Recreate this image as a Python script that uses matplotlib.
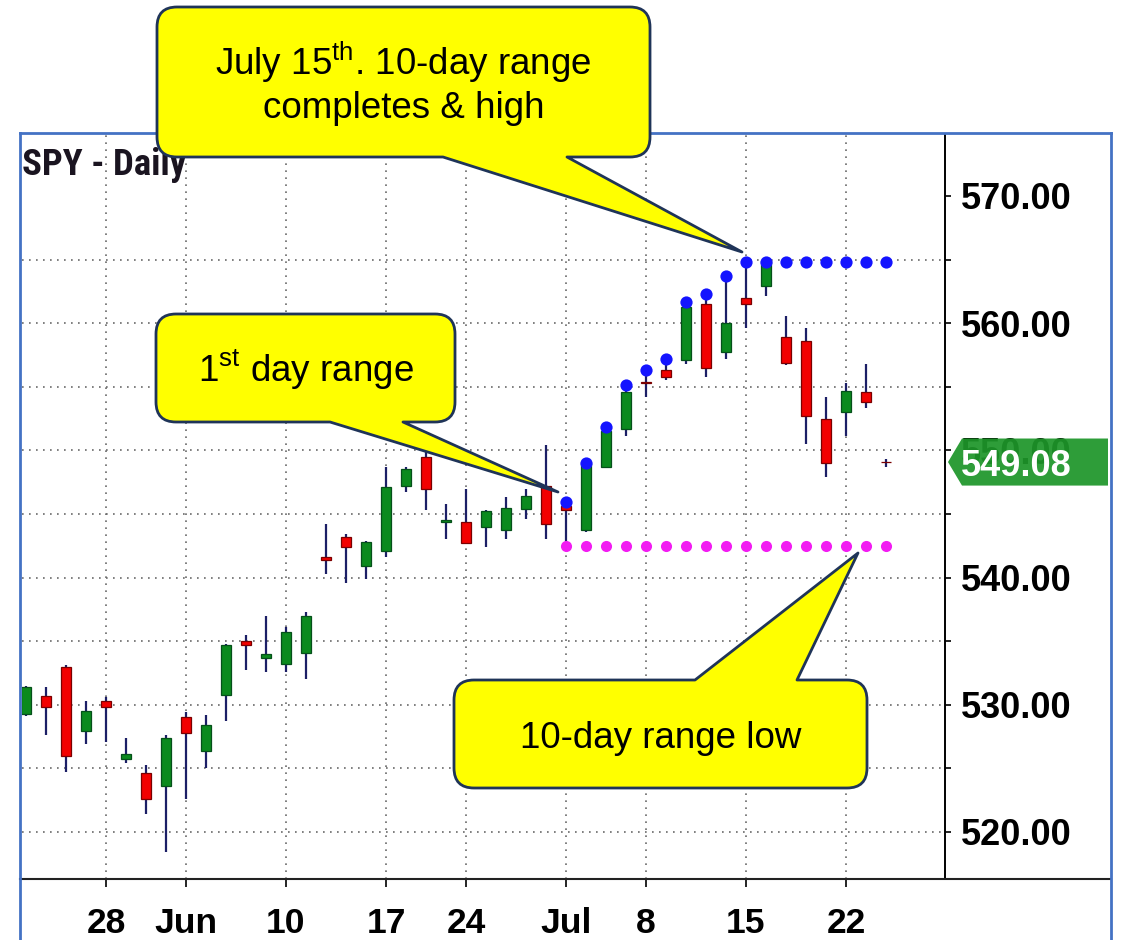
import matplotlib
matplotlib.use("Agg")
import matplotlib.pyplot as plt
import matplotlib.transforms as mtransforms
from matplotlib import font_manager
from matplotlib.path import Path
from matplotlib.patches import PathPatch, Polygon
from matplotlib.lines import Line2D
import numpy as np

plt.rcParams['font.family'] = ['Liberation Sans', 'DejaVu Sans']
plt.rcParams['mathtext.fontset'] = 'custom'
plt.rcParams['mathtext.rm'] = 'Liberation Sans'

# ---------------- data ----------------
dates = ['05-21', '05-22', '05-23', '05-24', '05-28', '05-29', '05-30', '05-31',
         '06-03', '06-04', '06-05', '06-06', '06-07', '06-10', '06-11', '06-12',
         '06-13', '06-14', '06-17', '06-18', '06-20', '06-21', '06-24', '06-25',
         '06-26', '06-27', '06-28', '07-01', '07-02', '07-03', '07-05', '07-08',
         '07-09', '07-10', '07-11', '07-12', '07-15', '07-16', '07-17', '07-18',
         '07-19', '07-22', '07-23', '07-24']
opens = [529.3, 530.7, 533.0, 527.9, 530.3, 525.7, 524.6, 523.6, 529.0, 526.4,
         530.8, 535.0, 533.7, 533.2, 534.1, 541.6, 543.2, 540.9, 542.1, 547.2,
         549.5, 544.4, 544.4, 544.0, 543.7, 545.4, 547.2, 545.6, 543.7, 548.7,
         551.7, 555.4, 556.3, 557.1, 561.5, 557.7, 562.0, 562.9, 558.9, 558.6,
         552.5, 553.0, 554.6, 549.1]
highs = [531.5, 531.4, 533.1, 530.3, 530.6, 527.4, 525.3, 527.6, 529.4, 529.2,
         534.8, 535.5, 537.0, 536.1, 537.3, 544.2, 543.4, 542.9, 548.7, 548.7,
         550.3, 545.8, 547.0, 545.3, 546.3, 547.0, 550.4, 545.9, 549.0, 551.8,
         555.1, 556.3, 557.2, 561.7, 562.3, 563.7, 564.8, 565.2, 560.6, 559.6,
         554.2, 555.3, 556.8, 549.3]
lows = [529.1, 527.6, 524.7, 526.9, 527.1, 525.4, 521.4, 518.4, 522.6, 525.0,
        528.7, 532.7, 532.6, 532.6, 532.0, 540.3, 539.6, 539.9, 541.6, 546.7,
        545.3, 543.0, 542.7, 542.4, 543.0, 544.6, 543.0, 542.5, 543.6, 548.6,
        551.1, 554.2, 555.5, 556.8, 555.8, 557.2, 559.6, 562.1, 556.7, 550.5,
        547.9, 551.1, 553.3, 548.7]
closes = [531.4, 529.8, 526.0, 529.5, 529.8, 526.1, 522.6, 527.4, 527.8, 528.4,
          534.7, 534.7, 534.0, 535.7, 537.0, 541.4, 542.4, 542.8, 547.1, 548.5,
          547.0, 544.5, 542.7, 545.2, 545.5, 546.4, 544.2, 545.3, 549.0, 551.5,
          554.6, 555.3, 555.8, 561.3, 556.5, 560.0, 561.5, 564.9, 556.9, 552.7,
          549.0, 554.7, 553.8, 549.08]
range_start = '07-01'
range_high_dots = [545.9, 549.0, 551.8, 555.1, 556.3, 557.2, 561.7, 562.3, 563.7,
                   564.8, 564.8, 564.8, 564.8, 564.8, 564.8, 564.8, 564.8]
range_low_dots = [542.5, 542.5, 542.5, 542.5, 542.5, 542.5, 542.5, 542.5, 542.5,
                  542.5, 542.5, 542.5, 542.5, 542.5, 542.5, 542.5, 542.5]
tick_dates = ['05-28', '06-03', '06-10', '06-17', '06-24', '07-01', '07-08', '07-15', '07-22']
tick_labels = ['28', 'Jun', '10', '17', '24', 'Jul', '8', '15', '22']
month_dates = ['06-03', '07-01']
price_ticks = [520, 530, 540, 550, 560, 570]
price_minor = [525, 535, 545, 555, 565]
grid_prices = [520, 525, 530, 535, 540, 545, 550, 555, 560, 565]
last_price = 549.08
title = 'SPY - Daily'

# ---------------- figure ----------------
W, H = 1124, 940
fig = plt.figure(figsize=(W / 100, H / 100), dpi=100)
fig.patch.set_facecolor('white')


def fx(x):
    return x / W


def fy(y):
    return 1 - y / H


ax = fig.add_axes([fx(22), fy(879), (945 - 22) / W, (879 - 134) / H])
ax.set_facecolor('white')
xi = np.arange(len(dates))
ax.set_xlim(-0.2, 45.95)
ax.set_ylim(516.30, 574.87)

o = np.array(opens); h = np.array(highs); l = np.array(lows); c = np.array(closes)

tick_idx = [dates.index(d) for d in tick_dates]
month_idx = [dates.index(d) for d in month_dates]

grid_kw = dict(color='#6a6a6a', lw=1.2, ls=(0, (1, 3.2)), zorder=1)
for t in tick_idx:
    ax.axvline(t, **grid_kw)
for g in grid_prices:
    ax.axhline(g, **grid_kw)

up = c >= o
body_col = np.where(up, '#0B8A1E', '#F20000')
edge_col = np.where(up, '#05501a', '#7a0000')
ax.vlines(xi, l, h, color='#1c1f66', lw=1.6, zorder=2)
ax.bar(xi, np.abs(c - o), bottom=np.minimum(o, c), width=0.48,
       color=body_col, edgecolor=edge_col, linewidth=0.9, zorder=3)

rs = dates.index(range_start)
rx = xi[rs:rs + len(range_high_dots)]
ax.plot(rx, range_high_dots, ls='none', marker='o', ms=8.8, color='#1414ff',
        markeredgewidth=0, zorder=4)
ax.plot(rx, range_low_dots, ls='none', marker='o', ms=8, color='#f21cf2',
        markeredgewidth=0, zorder=4)

# axes styling
for s in ['left', 'top', 'bottom']:
    ax.spines[s].set_visible(False)
ax.spines['right'].set_linewidth(1.4)
ax.spines['right'].set_color('black')

ax.yaxis.tick_right()
ax.set_yticks(price_ticks)
ax.set_yticklabels([f'{v:.2f}' for v in price_ticks])
ax.set_yticks(price_minor, minor=True)
ax.tick_params(axis='y', which='both', direction='out', length=4.5, width=1.2,
               pad=7, labelsize=26, colors='black')
for lab in ax.get_yticklabels():
    lab.set_fontweight('bold')

ax.set_xticks(tick_idx)
ax.set_xticklabels(tick_labels)
ax.set_xticks(month_idx, minor=True)
ax.tick_params(axis='x', which='major', direction='out', length=6, width=1.2,
               pad=14, labelsize=25.5, colors='black')
ax.tick_params(axis='x', which='minor', direction='out', length=16, width=1.2,
               labelbottom=False)
for lab in ax.get_xticklabels():
    lab.set_fontweight('bold')

# x-axis base line across the panel
fig.add_artist(Line2D([fx(20), fx(1111)], [fy(879), fy(879)], transform=fig.transFigure,
                      color='#222222', lw=1.5, zorder=3))
# blue frame
frame_kw = dict(transform=fig.transFigure, color='#4472C4', lw=2.0, zorder=3)
fig.add_artist(Line2D([fx(20), fx(20)], [fy(133), fy(945)], **frame_kw))
fig.add_artist(Line2D([fx(20), fx(1111)], [fy(133), fy(133)], **frame_kw))
fig.add_artist(Line2D([fx(1111), fx(1111)], [fy(133), fy(945)], **frame_kw))


# title in a narrow bold face when one is available
def pick_title_font():
    for fam, size in [('Liberation Sans Narrow', 26), ('Roboto Condensed', 26.5),
                      ('DejaVu Sans Condensed', 22)]:
        try:
            path = font_manager.findfont(font_manager.FontProperties(family=fam, weight='bold'),
                                         fallback_to_default=False)
            if path:
                return fam, size
        except Exception:
            pass
    return 'Liberation Sans', 23


tfam, tsize = pick_title_font()
fig.text(fx(22), fy(147), title, ha='left', va='top', fontsize=tsize, fontweight='bold',
         family=[tfam, 'Liberation Sans'], color='#1a1420', zorder=4)

# price tag
trans = mtransforms.blended_transform_factory(fig.transFigure, ax.transData)
hh = 1.85
tag = Polygon([(fx(948), last_price), (fx(962), last_price + hh), (fx(1108), last_price + hh),
               (fx(1108), last_price - hh), (fx(962), last_price - hh)], closed=True,
              transform=trans, facecolor='#1E962A', edgecolor='none', alpha=0.93,
              zorder=5, clip_on=False)
fig.add_artist(tag)
fig.text(fx(961), last_price, f'{last_price:.2f}', transform=trans, ha='left', va='center_baseline',
         fontsize=26, fontweight='bold', color='white', zorder=6)


# callouts
def callout(x0, y0, x1, y1, r, side, ba, bb, tip):
    verts, codes = [], []

    def M(p):
        verts.append(p); codes.append(Path.MOVETO)

    def L(p):
        verts.append(p); codes.append(Path.LINETO)

    def Q(cp, p):
        verts.extend([cp, p]); codes.extend([Path.CURVE3, Path.CURVE3])

    M((x0 + r, y0))
    if side == 'top':
        L((ba, y0)); L(tip); L((bb, y0))
    L((x1 - r, y0)); Q((x1, y0), (x1, y0 + r))
    L((x1, y1 - r)); Q((x1, y1), (x1 - r, y1))
    if side == 'bottom':
        L((bb, y1)); L(tip); L((ba, y1))
    L((x0 + r, y1)); Q((x0, y1), (x0, y1 - r))
    L((x0, y0 + r)); Q((x0, y0), (x0 + r, y0))
    verts.append((x0 + r, y0)); codes.append(Path.CLOSEPOLY)
    conv = [(fx(a), fy(b)) for a, b in verts]
    patch = PathPatch(Path(conv, codes), facecolor='#FFFF00', edgecolor='#1F3458',
                      lw=2.0, transform=fig.transFigure, zorder=10, joinstyle='round')
    fig.add_artist(patch)


callout(157, 7, 650, 157, 20, 'bottom', 443, 567, (742, 252))
callout(156, 314, 455, 422, 20, 'bottom', 330, 403, (558, 492))
callout(454, 680, 867, 788, 20, 'top', 695, 797, (858, 553))

txt_kw = dict(ha='center', va='baseline', fontsize=26.5, color='black', zorder=11)
fig.text(fx(403.5), fy(75), r'July 15$^{\mathrm{th}}$. 10-day range', **txt_kw)
fig.text(fx(403.5), fy(118), 'completes & high', **txt_kw)
fig.text(fx(306), fy(382), r'1$^{\mathrm{st}}$ day range', **txt_kw)
fig.text(fx(661), fy(748), '10-day range low', **txt_kw)

fig.savefig('out.png', dpi=100)
